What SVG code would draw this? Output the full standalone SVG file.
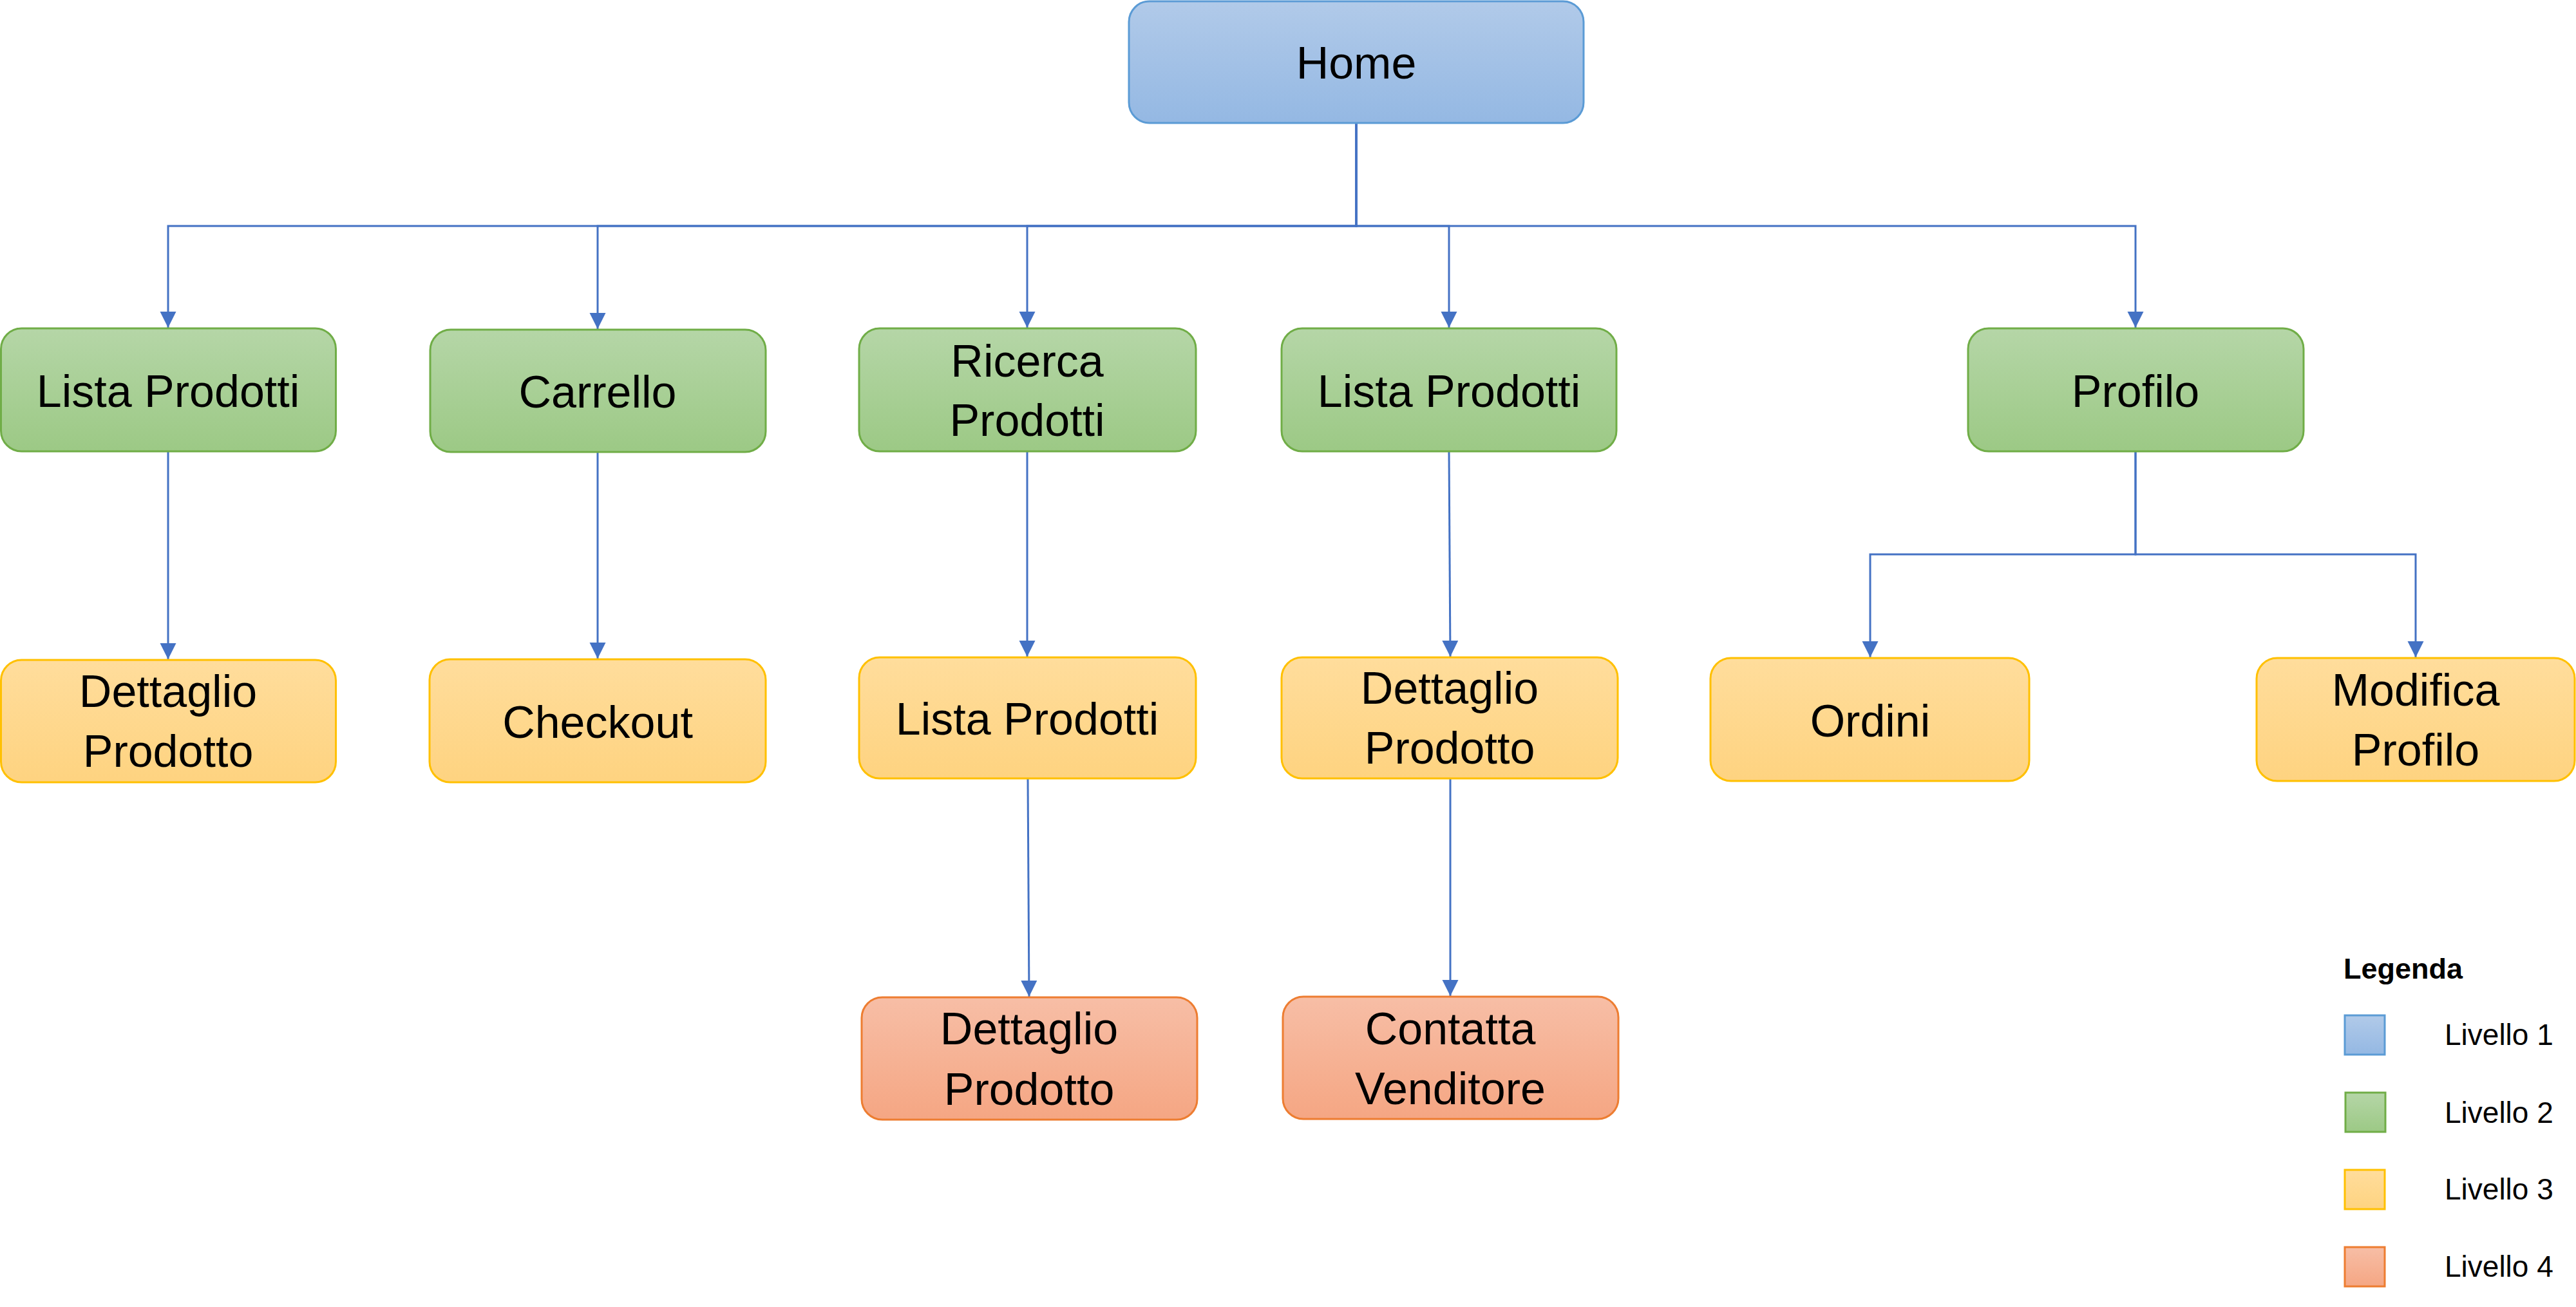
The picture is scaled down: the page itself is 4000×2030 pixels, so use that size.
<svg xmlns="http://www.w3.org/2000/svg" width="4000" height="2030" viewBox="0 0 4000 2030">
<defs>
<linearGradient id="gBlue" x1="0" y1="0" x2="0" y2="1"><stop offset="0" stop-color="#B1CAE9"/><stop offset="1" stop-color="#94B8E3"/></linearGradient>
<linearGradient id="gGreen" x1="0" y1="0" x2="0" y2="1"><stop offset="0" stop-color="#B5D6A7"/><stop offset="1" stop-color="#9CC985"/></linearGradient>
<linearGradient id="gYellow" x1="0" y1="0" x2="0" y2="1"><stop offset="0" stop-color="#FFDD9C"/><stop offset="1" stop-color="#FED380"/></linearGradient>
<linearGradient id="gOrange" x1="0" y1="0" x2="0" y2="1"><stop offset="0" stop-color="#F7BEA6"/><stop offset="1" stop-color="#F5A683"/></linearGradient>
<marker id="arr" markerUnits="userSpaceOnUse" markerWidth="26" markerHeight="26" refX="25" refY="12.5" orient="auto" viewBox="0 0 26 26">
<path d="M0,0 L25,12.5 L0,25 Z" fill="#4472C4"/>
</marker>
</defs>
<style>
.l1{fill:url(#gBlue);stroke:#5B9BD5;stroke-width:3}
.l2{fill:url(#gGreen);stroke:#70AD47;stroke-width:3}
.l3{fill:url(#gYellow);stroke:#FFC000;stroke-width:3}
.l4{fill:url(#gOrange);stroke:#ED7D31;stroke-width:3}
.t{font-family:"Liberation Sans",Arial,sans-serif;font-size:70px;fill:#000;text-anchor:middle}
.c{fill:none;stroke:#4472C4;stroke-width:3;marker-end:url(#arr)}
.lg{font-family:"Liberation Sans",Arial,sans-serif;font-size:46px;fill:#000}
.lgt{font-family:"Liberation Sans",Arial,sans-serif;font-size:45px;font-weight:bold;fill:#000}
</style>
<rect width="4000" height="2030" fill="#FFFFFF"/>
<g id="connectors">
<path class="c" d="M2106,191 V351 H261 V509"/>
<path class="c" d="M2106,191 V351 H928 V511"/>
<path class="c" d="M2106,191 V351 H1595 V509"/>
<path class="c" d="M2106,191 V351 H2250 V509"/>
<path class="c" d="M2106,191 V351 H3316 V509"/>
<path class="c" d="M261,701 V1024"/>
<path class="c" d="M928,702 V1023"/>
<path class="c" d="M1595,701 V1020"/>
<path class="c" d="M1596,1209 L1598,1548"/>
<path class="c" d="M2250,701 L2252,1020"/>
<path class="c" d="M2252,1209 V1547"/>
<path class="c" d="M3316,701 V861 H2904 V1021"/>
<path class="c" d="M3316,701 V861 H3751 V1021"/>
</g>
<g id="home">
<rect class="l1" x="1753" y="2" width="706" height="189" rx="32"/>
<text class="t" x="2106" y="122">Home</text>
</g>
<g id="lista-prodotti-1">
<rect class="l2" x="1.5" y="510" width="520" height="191" rx="32"/>
<text class="t" x="261" y="632">Lista Prodotti</text>
</g>
<g id="carrello">
<rect class="l2" x="668" y="512" width="521" height="190" rx="32"/>
<text class="t" x="928" y="633">Carrello</text>
</g>
<g id="ricerca-prodotti">
<rect class="l2" x="1334" y="510" width="523" height="191" rx="32"/>
<text class="t" x="1595" y="585">Ricerca</text>
<text class="t" x="1595" y="677">Prodotti</text>
</g>
<g id="lista-prodotti-2">
<rect class="l2" x="1990" y="510" width="520" height="191" rx="32"/>
<text class="t" x="2250" y="632">Lista Prodotti</text>
</g>
<g id="profilo">
<rect class="l2" x="3056" y="510" width="521" height="191" rx="32"/>
<text class="t" x="3316" y="632">Profilo</text>
</g>
<g id="dettaglio-prodotto-1">
<rect class="l3" x="1.5" y="1025" width="520" height="190" rx="32"/>
<text class="t" x="261" y="1098">Dettaglio</text>
<text class="t" x="261" y="1191">Prodotto</text>
</g>
<g id="checkout">
<rect class="l3" x="667" y="1024" width="522" height="191" rx="32"/>
<text class="t" x="928" y="1146">Checkout</text>
</g>
<g id="lista-prodotti-3">
<rect class="l3" x="1334" y="1021" width="523" height="188" rx="32"/>
<text class="t" x="1595" y="1141">Lista Prodotti</text>
</g>
<g id="dettaglio-prodotto-2">
<rect class="l3" x="1990" y="1021" width="522" height="188" rx="32"/>
<text class="t" x="2251" y="1093">Dettaglio</text>
<text class="t" x="2251" y="1186">Prodotto</text>
</g>
<g id="ordini">
<rect class="l3" x="2656" y="1022" width="495" height="191" rx="32"/>
<text class="t" x="2904" y="1144">Ordini</text>
</g>
<g id="modifica-profilo">
<rect class="l3" x="3504" y="1022" width="494" height="191" rx="32"/>
<text class="t" x="3751" y="1096">Modifica</text>
<text class="t" x="3751" y="1189">Profilo</text>
</g>
<g id="dettaglio-prodotto-3">
<rect class="l4" x="1338" y="1549" width="521" height="190" rx="32"/>
<text class="t" x="1598" y="1622">Dettaglio</text>
<text class="t" x="1598" y="1716">Prodotto</text>
</g>
<g id="contatta-venditore">
<rect class="l4" x="1992" y="1548" width="521" height="190" rx="32"/>
<text class="t" x="2252" y="1622">Contatta</text>
<text class="t" x="2252" y="1715">Venditore</text>
</g>
<g id="legenda">
<text class="lgt" x="3639" y="1520">Legenda</text>
<rect class="l1" x="3641" y="1577" width="62" height="61"/>
<text class="lg" x="3796" y="1623">Livello 1</text>
<rect class="l2" x="3642" y="1697" width="62" height="61"/>
<text class="lg" x="3796" y="1744">Livello 2</text>
<rect class="l3" x="3641" y="1817" width="62" height="61"/>
<text class="lg" x="3796" y="1863">Livello 3</text>
<rect class="l4" x="3641" y="1937" width="62" height="61"/>
<text class="lg" x="3796" y="1983">Livello 4</text>
</g>
</svg>
